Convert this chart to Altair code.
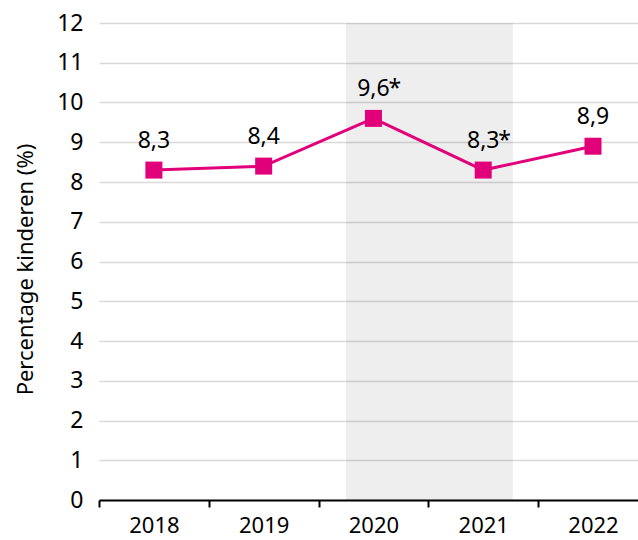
import altair as alt
import pandas as pd

years = [2018, 2019, 2020, 2021, 2022]
values = [8.3, 8.4, 9.6, 8.3, 8.9]
labels = ["8,3", "8,4", "9,6", "8,3", "8,9"]
stars = ["", "", "*", "*", ""]
y_ticks = list(range(0, 13))
band_edges = [2017.5, 2018.5, 2019.5, 2020.5, 2021.5]
shade_start, shade_end = 2019.75, 2021.27
x_domain = [2017.5, 2022.41]
y_title = "Percentage kinderen (%)"

df = pd.DataFrame({"year": years, "value": values, "label": labels, "star": stars})
shade = pd.DataFrame({"x": [shade_start], "x2": [shade_end], "y": [0], "y2": [12]})

FONT = "Noto Sans"
PINK = "#e2007a"

xscale = alt.Scale(domain=x_domain, nice=False, zero=False)
yscale = alt.Scale(domain=[0, 12], nice=False)

yaxis = alt.Axis(
    title=y_title, values=y_ticks, domain=False, ticks=False, grid=True,
    gridColor="#d9d9d9", gridWidth=1.5, labelFontSize=23, labelFont=FONT,
    labelColor="#000", labelPadding=16, titleFont=FONT, titleFontSize=22,
    titleFontWeight="normal", titleColor="#000", titlePadding=19, titleY=246,
)

edge_axis = alt.Axis(
    values=band_edges, labels=False, grid=False, domainColor="#000",
    domainWidth=2, tickColor="#000", tickSize=7, tickWidth=2, title=None,
    orient="bottom",
)
label_axis = alt.Axis(
    values=years, format="d", ticks=False, domain=False, grid=False,
    labelFontSize=22, labelFont=FONT, labelColor="#000", labelPadding=15,
    title=None, orient="bottom",
)

shade_layer = alt.Chart(shade).mark_rect(color="#000", opacity=0.065).encode(
    x=alt.X("x:Q", scale=xscale, axis=edge_axis),
    x2="x2",
    y=alt.Y("y:Q", scale=yscale, axis=yaxis),
    y2="y2",
)

base = alt.Chart(df).encode(
    x=alt.X("year:Q", scale=xscale, axis=label_axis),
    y=alt.Y("value:Q", scale=yscale, axis=yaxis),
)

line = base.mark_line(color=PINK, strokeWidth=3)
points = base.mark_square(size=289, color=PINK, opacity=1)
text = base.mark_text(font=FONT, fontSize=23, dy=-22, baseline="alphabetic",
                      align="center", color="#000").encode(text="label:N")
star = base.mark_text(font=FONT, fontSize=23, dy=-22, dx=15, baseline="alphabetic",
                      align="left", color="#000").encode(text="star:N")

data_layer = alt.layer(line, points, text, star)

chart = (
    alt.layer(shade_layer, data_layer)
    .resolve_axis(x="independent")
    .properties(
        width=539, height=477,
        padding={"left": 99, "top": 23, "right": 0, "bottom": 40},
        autosize=alt.AutoSizeParams(type="none"),
    )
    .configure_view(stroke=None)
)

chart.save("out.html", embed_options={"renderer": "svg", "actions": False})
